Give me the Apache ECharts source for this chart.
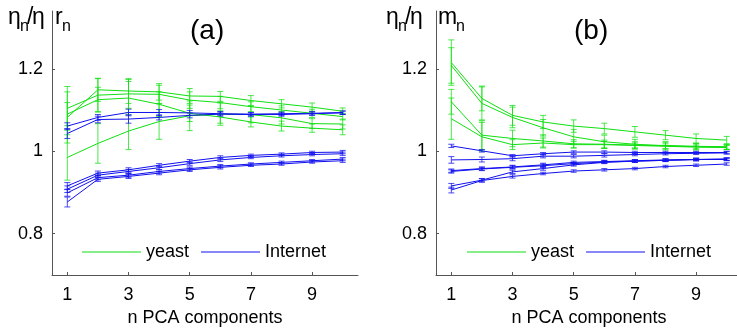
<!DOCTYPE html>
<html>
<head>
<meta charset="utf-8">
<script src="https://cdn.jsdelivr.net/npm/echarts@6/dist/echarts.min.js"></script>
<style>
  html, body { margin: 0; padding: 0; background: #fff; }
  #chart { width: 737px; height: 328px; }
</style>
</head>
<body>
<div id="chart"></div>
<script>
// number of PCA components
const nComponents = [1, 2, 3, 4, 5, 6, 7, 8, 9, 10]
const xTicks = [1, 3, 5, 7, 9]
const yTicks = [0.8, 1, 1.2]

// panel (a): eta_n / eta r_n
const yeastA1 = [1.082, 1.149, 1.146, 1.144, 1.134, 1.133, 1.123, 1.115, 1.107, 1.097]
const yeastA2 = [1.104, 1.136, 1.139, 1.138, 1.124, 1.118, 1.108, 1.100, 1.092, 1.084]
const yeastA3 = [1.090, 1.125, 1.129, 1.114, 1.092, 1.083, 1.071, 1.061, 1.056, 1.052]
const yeastA4 = [0.985, 1.019, 1.049, 1.072, 1.086, 1.090, 1.089, 1.081, 1.067, 1.066]
const yeastA1Err = [0.062, 0.028, 0.030, 0.020, 0.018, 0.012, 0.012, 0.010, 0.010, 0.008]
const yeastA2Err = [0.053, 0.040, 0.035, 0.022, 0.020, 0.015, 0.012, 0.010, 0.010, 0.008]
const yeastA3Err = [0.028, 0.030, 0.040, 0.030, 0.020, 0.015, 0.012, 0.012, 0.010, 0.012]
const yeastA4Err = [0.055, 0.048, 0.045, 0.043, 0.036, 0.027, 0.020, 0.015, 0.012, 0.012]

const internetA1 = [1.061, 1.082, 1.094, 1.094, 1.093, 1.091, 1.090, 1.091, 1.092, 1.094]
const internetA2 = [1.043, 1.077, 1.078, 1.082, 1.087, 1.090, 1.089, 1.089, 1.091, 1.093]
const internetA3 = [0.916, 0.947, 0.955, 0.966, 0.976, 0.985, 0.990, 0.993, 0.997, 0.998]
const internetA4 = [0.908, 0.942, 0.951, 0.960, 0.970, 0.979, 0.985, 0.989, 0.992, 0.994]
const internetA5 = [0.899, 0.936, 0.942, 0.951, 0.958, 0.964, 0.969, 0.973, 0.977, 0.981]
const internetA6 = [0.877, 0.932, 0.939, 0.947, 0.955, 0.961, 0.966, 0.969, 0.974, 0.977]
const internetA1Err = [0.008, 0.007, 0.008, 0.007, 0.006, 0.005, 0.004, 0.004, 0.004, 0.004]
const internetA2Err = [0.012, 0.008, 0.010, 0.006, 0.006, 0.005, 0.004, 0.004, 0.004, 0.004]
const internetA3Err = [0.008, 0.005, 0.005, 0.004, 0.004, 0.004, 0.003, 0.003, 0.003, 0.004]
const internetA4Err = [0.008, 0.005, 0.005, 0.004, 0.004, 0.004, 0.003, 0.003, 0.003, 0.004]
const internetA5Err = [0.008, 0.005, 0.005, 0.004, 0.004, 0.004, 0.003, 0.003, 0.003, 0.004]
const internetA6Err = [0.012, 0.005, 0.005, 0.004, 0.004, 0.004, 0.003, 0.003, 0.003, 0.004]

// panel (b): eta_n / eta m_n
const yeastB1 = [1.215, 1.128, 1.087, 1.071, 1.061, 1.055, 1.047, 1.039, 1.031, 1.027]
const yeastB2 = [1.208, 1.116, 1.082, 1.057, 1.035, 1.023, 1.017, 1.013, 1.011, 1.010]
const yeastB3 = [1.120, 1.039, 1.031, 1.025, 1.018, 1.017, 1.015, 1.014, 1.012, 1.011]
const yeastB4 = [1.079, 1.035, 1.016, 1.020, 1.016, 1.016, 1.014, 1.012, 1.010, 1.009]
const yeastB1Err = [0.055, 0.030, 0.024, 0.016, 0.015, 0.013, 0.013, 0.011, 0.011, 0.009]
const yeastB2Err = [0.043, 0.040, 0.025, 0.020, 0.018, 0.016, 0.012, 0.010, 0.008, 0.006]
const yeastB3Err = [0.030, 0.035, 0.020, 0.015, 0.010, 0.010, 0.008, 0.008, 0.006, 0.006]
const yeastB4Err = [0.050, 0.035, 0.012, 0.012, 0.008, 0.008, 0.006, 0.006, 0.005, 0.005]

const internetB1 = [1.013, 1.001, 0.989, 0.994, 0.998, 0.998, 0.997, 0.997, 0.997, 0.997]
const internetB2 = [0.979, 0.980, 0.982, 0.988, 0.988, 0.990, 0.992, 0.994, 0.995, 0.996]
const internetB3 = [0.953, 0.958, 0.962, 0.967, 0.973, 0.975, 0.977, 0.979, 0.980, 0.981]
const internetB4 = [0.951, 0.957, 0.961, 0.965, 0.970, 0.974, 0.976, 0.978, 0.980, 0.980]
const internetB5 = [0.916, 0.930, 0.950, 0.958, 0.967, 0.973, 0.976, 0.978, 0.980, 0.981]
const internetB6 = [0.906, 0.929, 0.939, 0.946, 0.952, 0.955, 0.958, 0.963, 0.966, 0.969]
const internetB1Err = [0.004, 0.003, 0.003, 0.003, 0.003, 0.003, 0.003, 0.003, 0.003, 0.003]
const internetB2Err = [0.008, 0.006, 0.005, 0.004, 0.004, 0.004, 0.003, 0.003, 0.003, 0.003]
const internetB3Err = [0.004, 0.004, 0.004, 0.004, 0.003, 0.003, 0.003, 0.003, 0.003, 0.003]
const internetB4Err = [0.004, 0.004, 0.004, 0.004, 0.003, 0.003, 0.003, 0.003, 0.003, 0.003]
const internetB5Err = [0.006, 0.004, 0.004, 0.004, 0.003, 0.003, 0.003, 0.003, 0.003, 0.003]
const internetB6Err = [0.007, 0.004, 0.004, 0.003, 0.003, 0.003, 0.003, 0.003, 0.003, 0.003]

const GREEN = '#10e010'
const BLUE = '#1010ee'
const AXIS_COLOR = '#555'
const FONT = 'Liberation Sans, Arial, sans-serif'

const panels = [
  {
    yeast: [[yeastA1, yeastA1Err], [yeastA2, yeastA2Err], [yeastA3, yeastA3Err], [yeastA4, yeastA4Err]],
    internet: [[internetA1, internetA1Err], [internetA2, internetA2Err], [internetA3, internetA3Err],
      [internetA4, internetA4Err], [internetA5, internetA5Err], [internetA6, internetA6Err]]
  },
  {
    yeast: [[yeastB1, yeastB1Err], [yeastB2, yeastB2Err], [yeastB3, yeastB3Err], [yeastB4, yeastB4Err]],
    internet: [[internetB1, internetB1Err], [internetB2, internetB2Err], [internetB3, internetB3Err],
      [internetB4, internetB4Err], [internetB5, internetB5Err], [internetB6, internetB6Err]]
  }
]

// vertical error bar with small caps
function renderErrorBar (params, api) {
  const x = api.value(0)
  const lo = api.coord([x, api.value(1)])
  const hi = api.coord([x, api.value(2)])
  const w = 3
  const style = { stroke: api.visual('color'), lineWidth: 1, opacity: 0.75 }
  return {
    type: 'group',
    children: [
      { type: 'line', shape: { x1: lo[0], y1: lo[1], x2: hi[0], y2: hi[1] }, style },
      { type: 'line', shape: { x1: lo[0] - w, y1: lo[1], x2: lo[0] + w, y2: lo[1] }, style },
      { type: 'line', shape: { x1: hi[0] - w, y1: hi[1], x2: hi[0] + w, y2: hi[1] }, style }
    ]
  }
}

const series = []
panels.forEach((panel, idx) => {
  const groups = [['yeast', GREEN, panel.yeast], ['Internet', BLUE, panel.internet]]
  groups.forEach(([name, color, lines]) => {
    lines.forEach(([values, errs]) => {
      series.push({
        type: 'custom',
        xAxisIndex: idx,
        yAxisIndex: idx,
        itemStyle: { color },
        renderItem: renderErrorBar,
        silent: true,
        data: nComponents.map((n, i) => [n, values[i] - errs[i], values[i] + errs[i]])
      })
      series.push({
        name,
        type: 'line',
        xAxisIndex: idx,
        yAxisIndex: idx,
        symbol: 'none',
        itemStyle: { color },
        lineStyle: { color, width: 1 },
        silent: true,
        data: nComponents.map((n, i) => [n, values[i]])
      })
    })
  })
})

// fixed plot boxes; outerBoundsMode none so v6 does not shrink them
const gridTop = 11
const gridHeight = 264
const grids = [
  { left: 52, top: gridTop, width: 306, height: gridHeight, outerBoundsMode: 'none', containLabel: false },
  { left: 436, top: gridTop, width: 306, height: gridHeight, outerBoundsMode: 'none', containLabel: false }
]

const xAxes = grids.map((g, idx) => ({
  type: 'value',
  gridIndex: idx,
  min: 0.5,
  max: 10.5,
  name: 'n PCA components',
  nameLocation: 'middle',
  nameGap: 34,
  nameTextStyle: { fontSize: 18, color: '#000', fontFamily: FONT },
  splitLine: { show: false },
  axisLine: { lineStyle: { color: AXIS_COLOR, width: 1 } },
  axisTick: { inside: true, length: 3, customValues: xTicks, lineStyle: { color: AXIS_COLOR } },
  axisLabel: { customValues: xTicks, fontSize: 18, color: '#000', fontFamily: FONT, margin: 11 }
}))

const yAxes = grids.map((g, idx) => ({
  type: 'value',
  gridIndex: idx,
  min: 0.7,
  max: 1.34,
  splitLine: { show: false },
  axisLine: { show: true, lineStyle: { color: AXIS_COLOR, width: 1 } },
  axisTick: { show: true, inside: true, length: 3, customValues: yTicks, lineStyle: { color: AXIS_COLOR } },
  axisLabel: { customValues: yTicks, fontSize: 18, color: '#000', fontFamily: FONT, margin: 9 }
}))

const legendBase = {
  data: [{ name: 'yeast', icon: 'rect' }, { name: 'Internet', icon: 'rect' }],
  itemWidth: 59,
  itemHeight: 1,
  itemGap: 12,
  selectedMode: false,
  textStyle: { fontSize: 18, color: '#000', fontFamily: FONT }
}

// y label pieces: [text, dx, isSub]
const yLabelA = [['η', 0, false], ['n', 12, true], ['/', 19, false], ['η', 24, false], ['r', 47, false], ['n', 54, true]]
const yLabelB = [['η', 0, false], ['n', 12, true], ['/', 19, false], ['η', 24, false], ['m', 52, false], ['n', 70, true]]

function labelPieces (pieces, x0) {
  return pieces.map(([text, dx, isSub]) => ({
    type: 'text',
    x: x0 + dx,
    y: isSub ? 35 : 29,
    style: {
      text,
      fontSize: isSub ? 16 : 23,
      fontFamily: FONT,
      fill: '#000',
      verticalAlign: 'bottom'
    }
  }))
}

const option = {
  animation: false,
  backgroundColor: '#fff',
  grid: grids,
  xAxis: xAxes,
  yAxis: yAxes,
  legend: [
    Object.assign({ left: 77, top: 238 }, legendBase),
    Object.assign({ left: 462, top: 238 }, legendBase)
  ],
  graphic: [
    ...labelPieces(yLabelA, 8),
    ...labelPieces(yLabelB, 386),
    { type: 'text', left: 190, top: 17, style: { text: '(a)', fontSize: 28, fontFamily: FONT, fill: '#000' } },
    { type: 'text', left: 574, top: 17, style: { text: '(b)', fontSize: 28, fontFamily: FONT, fill: '#000' } }
  ],
  series
}

const chart = echarts.init(document.getElementById('chart'), null, { renderer: 'canvas' })
chart.setOption(option)
</script>
</body>
</html>
